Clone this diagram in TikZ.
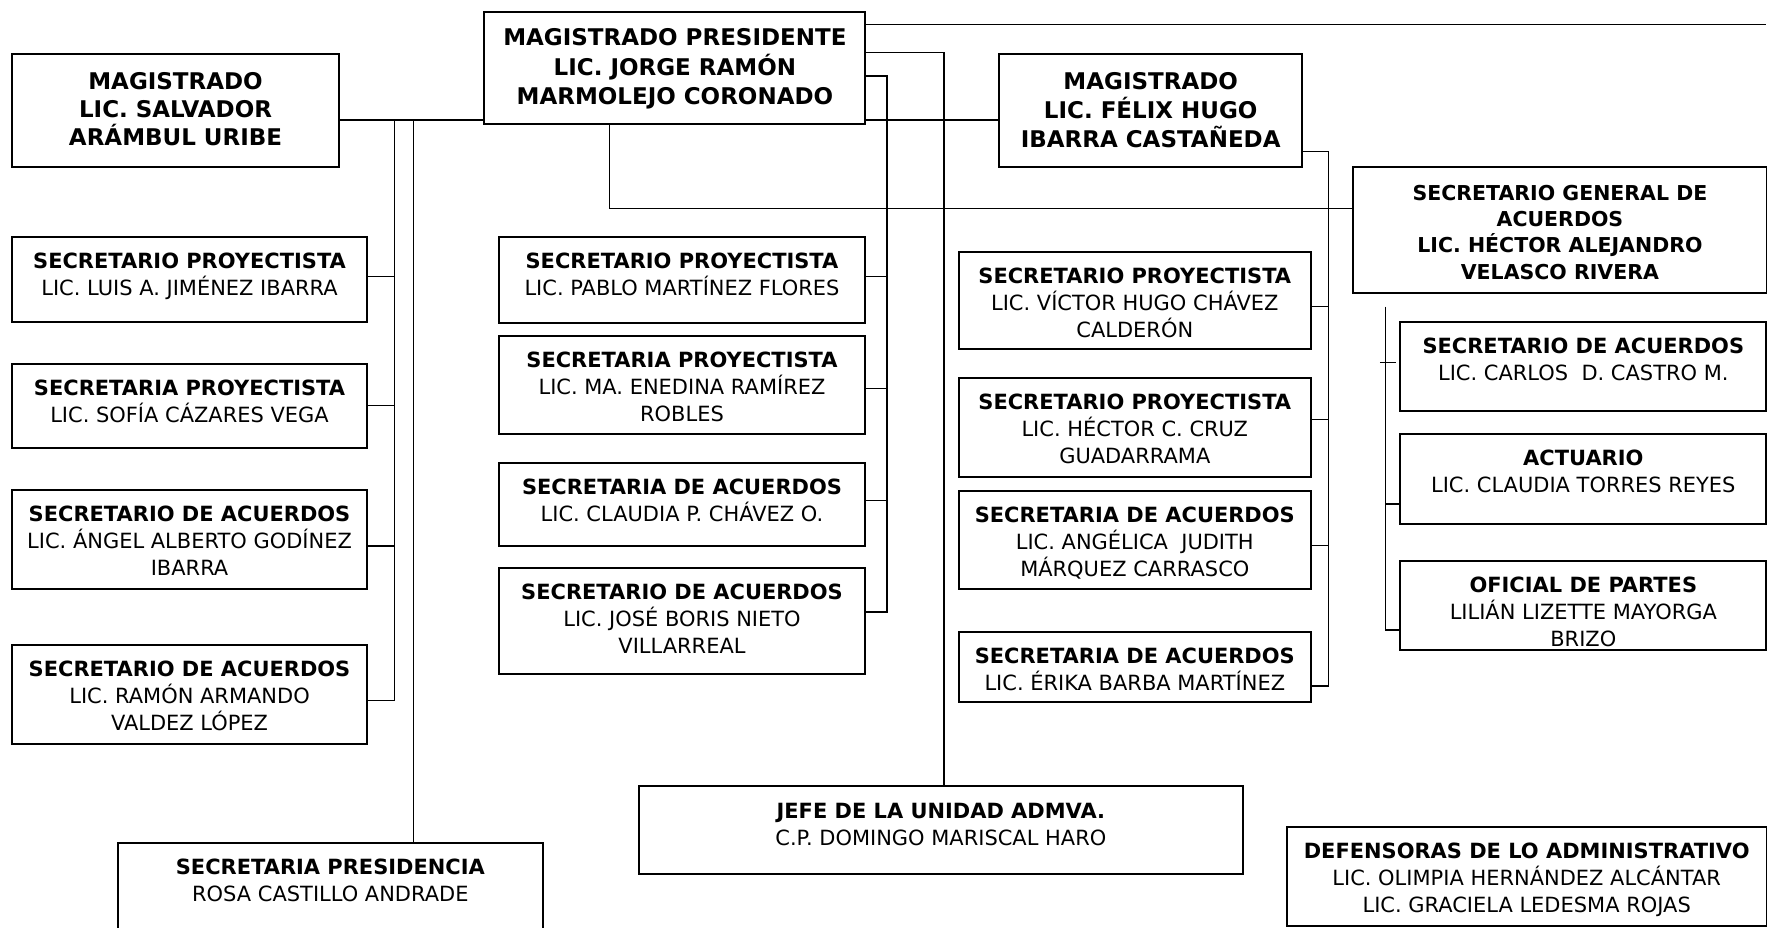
\documentclass[tikz,border=0pt]{standalone}
\usepackage{fontspec}
\setmainfont{DejaVu Sans}
\newlength\ux \setlength\ux{0.5pt}
\tikzset{
  ob/.style={draw, line width=0.9pt, inner sep=0pt, anchor=north west, font=\fontsize{9.3pt}{12pt}\selectfont},
  tb/.style={ob, font=\fontsize{10.2pt}{13pt}\selectfont\bfseries},
  cn/.style={line width=0.55pt},
}
% style, name, x, y (top-left), width, height, first baseline, content
\newcommand\obox[8]{\node[#1] (#2) at (#3,#4) {\parbox[c][#6\ux][t]{#5\ux}{\centering\rule{0pt}{#7}#8\par}};}
\begin{document}
\begin{tikzpicture}[x=0.5pt,y=-0.5pt]
\useasboundingbox (0,0) rectangle (1568,823);
\clip (0,0) rectangle (1568,823);

% top level
\obox{tb}{salv}{9.8}{47}{290.2}{100}{15.7pt}{\fontsize{10.2pt}{12.5pt}\selectfont MAGISTRADO\\LIC. SALVADOR\\ARÁMBUL URIBE}
\obox{tb}{pres}{429}{9.8}{338}{99.2}{15pt}{MAGISTRADO PRESIDENTE\\LIC. JORGE RAMÓN\\MARMOLEJO CORONADO}
\obox{tb}{felix}{886}{46.7}{268.4}{100.3}{15.8pt}{MAGISTRADO\\LIC. FÉLIX HUGO\\IBARRA CASTAÑEDA}
\obox{tb}{secgen}{1200}{147}{366.7}{112.4}{14.8pt}{\fontsize{9.1pt}{11.7pt}\selectfont SECRETARIO GENERAL DE\\ACUERDOS\\LIC. HÉCTOR ALEJANDRO\\VELASCO RIVERA}

% left column
\obox{ob}{luis}{9.8}{209.4}{315}{75.2}{14pt}{\textbf{SECRETARIO PROYECTISTA}\\LIC. LUIS A. JIMÉNEZ IBARRA}
\obox{ob}{sofia}{9.8}{321.8}{315}{75.2}{14pt}{\textbf{SECRETARIA PROYECTISTA}\\LIC. SOFÍA CÁZARES VEGA}
\obox{ob}{angel}{9.8}{434}{315}{88}{14pt}{\textbf{SECRETARIO DE ACUERDOS}\\LIC. ÁNGEL ALBERTO GODÍNEZ\\IBARRA}
\obox{ob}{ramon}{9.8}{571.7}{315}{87.3}{14pt}{\textbf{SECRETARIO DE ACUERDOS}\\LIC. RAMÓN ARMANDO\\VALDEZ LÓPEZ}

% middle column
\obox{ob}{pablo}{441.6}{209.5}{325.4}{76}{14pt}{\textbf{SECRETARIO PROYECTISTA}\\LIC. PABLO MARTÍNEZ FLORES}
\obox{ob}{enedina}{441.6}{297}{325.4}{87}{14pt}{\textbf{SECRETARIA PROYECTISTA}\\LIC. MA. ENEDINA RAMÍREZ\\ROBLES}
\obox{ob}{claudia}{441.6}{409.6}{325.4}{74.4}{14pt}{\textbf{SECRETARIA DE ACUERDOS}\\LIC. CLAUDIA P. CHÁVEZ O.}
\obox{ob}{jose}{441.6}{503}{325.4}{94}{14pt}{\textbf{SECRETARIO DE ACUERDOS}\\LIC. JOSÉ BORIS NIETO\\VILLARREAL}

% right-middle column
\obox{ob}{victor}{849.8}{222.4}{312.6}{86.7}{14pt}{\textbf{SECRETARIO PROYECTISTA}\\LIC. VÍCTOR HUGO CHÁVEZ\\CALDERÓN}
\obox{ob}{hectorc}{849.8}{334.5}{312.6}{87.5}{14pt}{\textbf{SECRETARIO PROYECTISTA}\\LIC. HÉCTOR C. CRUZ\\GUADARRAMA}
\obox{ob}{angelica}{849.8}{434.5}{312.6}{87.5}{14pt}{\textbf{SECRETARIA DE ACUERDOS}\\LIC. ANGÉLICA\ \ JUDITH\\MÁRQUEZ CARRASCO}
\obox{ob}{erika}{849.8}{559.6}{312.6}{62.4}{14pt}{\textbf{SECRETARIA DE ACUERDOS}\\LIC. ÉRIKA BARBA MARTÍNEZ}

% far right column
\obox{ob}{carlos}{1241.6}{284.5}{325}{79.3}{14pt}{\textbf{SECRETARIO DE ACUERDOS}\\LIC. CARLOS\ \ D. CASTRO M.}
\obox{ob}{actuario}{1241.6}{384.2}{325}{79.6}{14pt}{\textbf{ACTUARIO}\\LIC. CLAUDIA TORRES REYES}
\obox{ob}{oficial}{1241.6}{496.9}{325}{79.2}{14pt}{\textbf{OFICIAL DE PARTES}\\LILIÁN LIZETTE MAYORGA\\BRIZO}

% bottom
\obox{ob}{jefe}{566}{697}{536}{78}{14pt}{\textbf{JEFE DE LA UNIDAD ADMVA.}\\C.P. DOMINGO MARISCAL HARO}
\obox{ob}{secpres}{103.5}{746.8}{377.5}{90}{14pt}{\textbf{SECRETARIA PRESIDENCIA}\\ROSA CASTILLO ANDRADE}
\obox{ob}{defens}{1141}{733}{425.7}{88}{14pt}{\textbf{DEFENSORAS DE LO ADMINISTRATIVO}\\LIC. OLIMPIA HERNÁNDEZ ALCÁNTAR\\LIC. GRACIELA LEDESMA ROJAS}

% bus coordinates
\coordinate (lbus) at (350,106.5);
\coordinate (pbus) at (366.7,106.5);
\coordinate (mbus) at (787,67.4);
\coordinate (jbus) at (837.6,46.7);
\coordinate (rbus) at (1178.6,134.6);
\coordinate (fbus) at (1229.5,272);
\coordinate (gline) at (541,184.8);
\coordinate (topend) at (1567,21.6);

% connectors from the president
\draw[cn] (pres.east |- topend) -- (topend);
\draw[cn] (pres.east |- jbus) -- (jbus) -- (jbus |- jefe.north);
\draw[cn] (pres.east |- mbus) -- (mbus) -- (mbus |- 0,543) -- (jose.east |- 0,543);
\draw[cn] (salv.east |- lbus) -- (pres.west |- lbus);
\draw[cn] (pres.east |- lbus) -- (felix.west |- lbus);
\draw[cn] (pres.south -| gline) -- (gline) -- (secgen.west |- gline);

% left bus
\draw[cn] (lbus) -- (lbus |- 0,621.7) -- (ramon.east |- 0,621.7);
\draw[cn] (luis.east |- 0,245.5) -- (lbus |- 0,245.5);
\draw[cn] (sofia.east |- 0,360) -- (lbus |- 0,360);
\draw[cn] (angel.east |- 0,484.5) -- (lbus |- 0,484.5);
\draw[cn] (pbus) -- (pbus |- secpres.north);

% middle bus
\draw[cn] (pablo.east |- 0,245.5) -- (mbus |- 0,245.5);
\draw[cn] (enedina.east |- 0,345) -- (mbus |- 0,345);
\draw[cn] (claudia.east |- 0,444) -- (mbus |- 0,444);

% right-middle bus
\draw[cn] (felix.east |- rbus) -- (rbus) -- (rbus |- 0,608.7) -- (erika.east |- 0,608.7);
\draw[cn] (victor.east |- 0,272.1) -- (rbus |- 0,272.1);
\draw[cn] (hectorc.east |- 0,372.1) -- (rbus |- 0,372.1);
\draw[cn] (angelica.east |- 0,484.2) -- (rbus |- 0,484.2);

% far right bus
\draw[cn] (fbus) -- (fbus |- 0,559) -- (oficial.west |- 0,559);
\draw[cn] (fbus |- 0,447.2) -- (actuario.west |- 0,447.2);
\draw[cn] (fbus |- 0,321.8) ++(-5,0) -- ++(14,0);
\end{tikzpicture}
\end{document}
